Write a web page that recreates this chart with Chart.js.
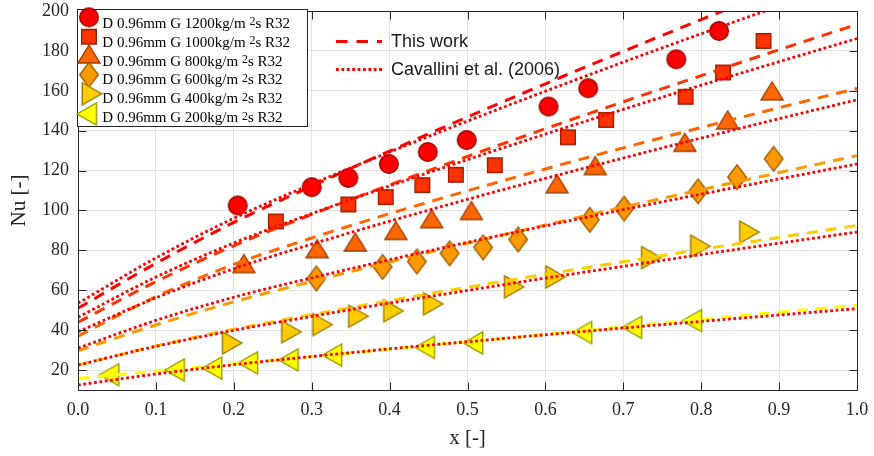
<!DOCTYPE html>
<html lang="en">
<head>
  <meta charset="UTF-8" />
  <title>Nu vs x - R32, D 0.96mm</title>
  <script src="https://cdn.jsdelivr.net/npm/chart.js"></script>
  <style>
    html, body { margin: 0; padding: 0; background: #ffffff; }
    #wrap { width: 874px; height: 456px; }
  </style>
</head>
<body>
  <div id="wrap"><canvas id="nuChart" width="874" height="456"></canvas></div>

  <script>
    // axis ticks
    const xTicks = [0, 0.1, 0.2, 0.3, 0.4, 0.5, 0.6, 0.7, 0.8, 0.9, 1.0];
    const yTicks = [20, 40, 60, 80, 100, 120, 140, 160, 180, 200];

    // mass fluxes (kg/m2s), one group per series
    const massFluxes = [1200, 1000, 800, 600, 400, 200];

    // experimental points
    const g1200X = [0.205, 0.300, 0.347, 0.399, 0.449, 0.499, 0.604, 0.655, 0.768, 0.823];
    const g1200Y = [102.5, 111.7, 116.3, 123.3, 129.3, 135.3, 152.1, 161.3, 175.8, 190];
    const g1000X = [0.254, 0.347, 0.395, 0.442, 0.485, 0.535, 0.629, 0.678, 0.780, 0.828, 0.880];
    const g1000Y = [94.5, 103, 106.7, 112.7, 117.9, 122.7, 136.7, 145.4, 157, 169.2, 185];
    const g800X = [0.213, 0.307, 0.356, 0.408, 0.454, 0.505, 0.615, 0.664, 0.779, 0.834, 0.891];
    const g800Y = [73.4, 80.9, 84.2, 90, 95.9, 100, 113.4, 122.5, 134.2, 145.4, 160];
    const g600X = [0.306, 0.391, 0.435, 0.477, 0.520, 0.565, 0.657, 0.701, 0.796, 0.846, 0.893];
    const g600Y = [65.9, 71.7, 74.4, 78.5, 81.5, 85.5, 95.3, 100.9, 109.6, 116.7, 125.9];
    const g400X = [0.198, 0.274, 0.314, 0.360, 0.405, 0.456, 0.560, 0.613, 0.736, 0.799, 0.862];
    const g400Y = [33.6, 39.2, 42.8, 47, 49.7, 53.2, 61.7, 66.7, 76.4, 82.1, 89.2];
    const g200X = [0.040, 0.124, 0.172, 0.218, 0.270, 0.326, 0.445, 0.507, 0.647, 0.711, 0.788];
    const g200Y = [17.7, 20, 21, 23.6, 25.1, 27.5, 31.4, 33.6, 38.8, 41.4, 44.8];

    // model curves, read at these x positions
    const lineX = [0, 0.1, 0.2, 0.3, 0.4, 0.5, 0.6, 0.7, 0.8, 0.9, 1.0];
    const work1200 = [51, 73.5, 94, 112.2, 129.8, 146.9, 163.5, 179.8, 195.7, 211.5, 227];
    const work1000 = [44, 64.3, 82.3, 98, 112.8, 127.1, 141, 154.5, 167.6, 180.6, 193.3];
    const work800  = [37, 56.8, 73, 86.2, 98.4, 109.9, 120.8, 131.4, 141.6, 151.5, 161.2];
    const work600  = [29.7, 42.6, 54.2, 64.4, 74.2, 83.6, 92.7, 101.7, 110.4, 119, 127.5];
    const work400  = [22.5, 32.1, 40.5, 47.8, 54.8, 61.5, 68, 74.3, 80.5, 86.5, 92.5];
    const work200  = [15.8, 19.5, 23.1, 26.8, 30.5, 34.2, 37.9, 41.7, 45.4, 49, 52.5];
    const cav1200 = [53.5, 76.2, 96.1, 113.2, 129.3, 144.8, 159.8, 174.4, 188.6, 202.5, 216.2];
    const cav1000 = [46.5, 66.6, 83.7, 98.4, 112.3, 125.5, 138.3, 150.7, 162.8, 174.6, 186.2];
    const cav800  = [39.2, 56.2, 70.8, 83.1, 94.6, 105.6, 116.1, 126.3, 136.3, 146, 155.5];
    const cav600  = [31, 44.9, 56.5, 66.2, 75.3, 84, 92.3, 100.4, 108.2, 115.8, 123.3];
    const cav400  = [22.5, 31.9, 39.9, 46.9, 53.6, 59.9, 66.1, 72, 77.9, 83.6, 89.2];
    const cav200  = [12.5, 18, 22.7, 26.8, 30.6, 34.2, 37.7, 41.1, 44.4, 47.6, 50.8];

    const pointsX = [g1200X, g1000X, g800X, g600X, g400X, g200X];
    const pointsY = [g1200Y, g1000Y, g800Y, g600Y, g400Y, g200Y];
    const workLines = [work1200, work1000, work800, work600, work400, work200];
    const cavLines = [cav1200, cav1000, cav800, cav600, cav400, cav200];

    const fillColors = ["#FF0000", "#FF3300", "#FF6600", "#FF9900", "#FFCC00", "#FFFF00"];
    const edgeColors = ["#990000", "#991F00", "#993D00", "#995C00", "#997A00", "#999900"];
    const shapes = ["circle", "square", "triUp", "diamond", "triRight", "triLeft"];

    const SERIF = "'Liberation Serif', 'Times New Roman', serif";
    const SANS = "'Liberation Sans', Arial, sans-serif";
    const DOT = [2.8, 2.6];
    const DASH = [11, 8];

    function makeMarker(shape, fill, edge) {
      const c = document.createElement("canvas");
      c.width = 30;
      c.height = 30;
      const g = c.getContext("2d");
      g.translate(15, 15);
      g.beginPath();
      if (shape === "circle") {
        g.arc(0, 0, 9.3, 0, Math.PI * 2);
      } else if (shape === "square") {
        g.rect(-7.3, -7.3, 14.6, 14.6);
      } else if (shape === "triUp") {
        g.moveTo(0, -9); g.lineTo(11, 9); g.lineTo(-11, 9); g.closePath();
      } else if (shape === "diamond") {
        g.moveTo(0, -12.3); g.lineTo(9.3, 0); g.lineTo(0, 12.3); g.lineTo(-9.3, 0); g.closePath();
      } else if (shape === "triRight") {
        g.moveTo(9.7, 0); g.lineTo(-9.7, -11); g.lineTo(-9.7, 11); g.closePath();
      } else {
        g.moveTo(-9.7, 0); g.lineTo(9.7, -11); g.lineTo(9.7, 11); g.closePath();
      }
      g.fillStyle = fill;
      g.fill();
      g.lineWidth = 1.4;
      g.strokeStyle = edge;
      g.stroke();
      return c;
    }

    const markers = shapes.map((s, i) => makeMarker(s, fillColors[i], edgeColors[i]));

    // first datasets are drawn on top: dotted, then dashed, then markers
    const datasets = [];
    cavLines.forEach(arr => {
      datasets.push({
        data: lineX.map((x, j) => ({ x, y: arr[j] })),
        showLine: true,
        borderColor: "#FF0000",
        borderWidth: 2.8,
        borderDash: DOT,
        pointRadius: 0,
        tension: 0.4,
        cubicInterpolationMode: "monotone"
      });
    });
    workLines.forEach((arr, i) => {
      datasets.push({
        data: lineX.map((x, j) => ({ x, y: arr[j] })),
        showLine: true,
        borderColor: fillColors[i],
        borderWidth: 3,
        borderDash: DASH,
        pointRadius: 0,
        tension: 0.4,
        cubicInterpolationMode: "monotone"
      });
    });
    pointsX.forEach((xs, i) => {
      datasets.push({
        data: xs.map((x, j) => ({ x, y: pointsY[i][j] })),
        showLine: false,
        pointStyle: markers[i],
        pointRadius: 10
      });
    });

    const framePlugin = {
      id: "frame",
      afterDraw(chart) {
        const { ctx, chartArea: a } = chart;
        const xs = chart.scales.x, ys = chart.scales.y;
        const L = a.left + 0.5, R = a.right + 0.5, T = a.top + 0.5, B = a.bottom + 0.5;
        ctx.save();

        // axes box and inward ticks on all four sides
        ctx.strokeStyle = "#262626";
        ctx.lineWidth = 1;
        ctx.setLineDash([]);
        ctx.beginPath();
        ctx.rect(L, T, R - L, B - T);
        xTicks.forEach(v => {
          const px = Math.round(xs.getPixelForValue(v)) + 0.5;
          ctx.moveTo(px, B); ctx.lineTo(px, B - 8);
          ctx.moveTo(px, T); ctx.lineTo(px, T + 8);
        });
        yTicks.forEach(v => {
          const py = Math.round(ys.getPixelForValue(v)) + 0.5;
          ctx.moveTo(L, py); ctx.lineTo(L + 8, py);
          ctx.moveTo(R, py); ctx.lineTo(R - 8, py);
        });
        ctx.stroke();

        // marker legend
        ctx.fillStyle = "#ffffff";
        ctx.fillRect(77.5, 9.5, 230, 117);
        ctx.strokeRect(77.5, 9.5, 230, 117);
        const markerX = [89, 89, 89, 89, 92, 86.7];
        const markerY = [17.3, 36.7, 54, 74.7, 93.7, 114];
        ctx.fillStyle = "#000000";
        ctx.textBaseline = "alphabetic";
        ctx.textAlign = "left";
        massFluxes.forEach((g, i) => {
          ctx.drawImage(markers[i], markerX[i] - 15, markerY[i] - 15);
          const base = 27.7 + i * 18.9;
          const x0 = 102.3;
          const main = "D 0.96mm G " + g + "kg/m ";
          ctx.font = "15px " + SERIF;
          ctx.fillText(main, x0, base);
          const w1 = ctx.measureText(main).width;
          ctx.font = "12px " + SERIF;
          ctx.fillText("2", x0 + w1, base - 2.5);
          const w2 = ctx.measureText("2").width;
          ctx.font = "15px " + SERIF;
          ctx.fillText("s R32", x0 + w1 + w2, base);
        });

        // line legend
        ctx.strokeStyle = "#FF0000";
        ctx.lineWidth = 3;
        ctx.setLineDash([11.5, 9]);
        ctx.beginPath();
        ctx.moveTo(336, 41.5); ctx.lineTo(382, 41.5);
        ctx.stroke();
        ctx.lineWidth = 2.8;
        ctx.setLineDash(DOT);
        ctx.beginPath();
        ctx.moveTo(336, 69.5); ctx.lineTo(382, 69.5);
        ctx.stroke();
        ctx.setLineDash([]);
        ctx.fillStyle = "#1a1a1a";
        ctx.font = "18px " + SANS;
        ctx.fillText("This work", 391, 47.3);
        ctx.fillText("Cavallini et al. (2006)", 391, 75.3);

        ctx.restore();
      }
    };

    new Chart(document.getElementById("nuChart").getContext("2d"), {
      type: "scatter",
      data: { datasets },
      options: {
        responsive: false,
        animation: false,
        events: [],
        layout: { padding: { top: 10, right: 17, left: 0, bottom: 0 } },
        plugins: {
          legend: { display: false },
          tooltip: { enabled: false }
        },
        scales: {
          x: {
            type: "linear",
            min: 0,
            max: 1,
            afterBuildTicks: s => { s.ticks = xTicks.map(v => ({ value: v })); },
            afterFit: s => { s.height = 66; s.paddingLeft = 0; s.paddingRight = 0; },
            grid: { color: "#e2e2e2", lineWidth: 1, drawTicks: false },
            border: { display: false },
            ticks: {
              autoSkip: false,
              maxRotation: 0,
              padding: 9,
              color: "#262626",
              font: { family: SERIF, size: 18 },
              callback: v => Number(v).toFixed(1)
            },
            title: {
              display: true,
              text: "x [-]",
              color: "#262626",
              font: { family: SERIF, size: 21 },
              padding: { top: 0, bottom: 5 }
            }
          },
          y: {
            type: "linear",
            min: 10,
            max: 200,
            afterBuildTicks: s => { s.ticks = yTicks.map(v => ({ value: v })); },
            afterFit: s => { s.width = 78; s.paddingTop = 0; s.paddingBottom = 0; },
            grid: { color: "#e2e2e2", lineWidth: 1, drawTicks: false },
            border: { display: false },
            ticks: {
              autoSkip: false,
              padding: 9,
              color: "#262626",
              font: { family: SERIF, size: 18 },
              callback: v => String(v)
            },
            title: {
              display: true,
              text: "Nu [-]",
              color: "#262626",
              font: { family: SERIF, size: 21 },
              padding: { top: 7, bottom: 0 }
            }
          }
        }
      },
      plugins: [framePlugin]
    });
  </script>
</body>
</html>
